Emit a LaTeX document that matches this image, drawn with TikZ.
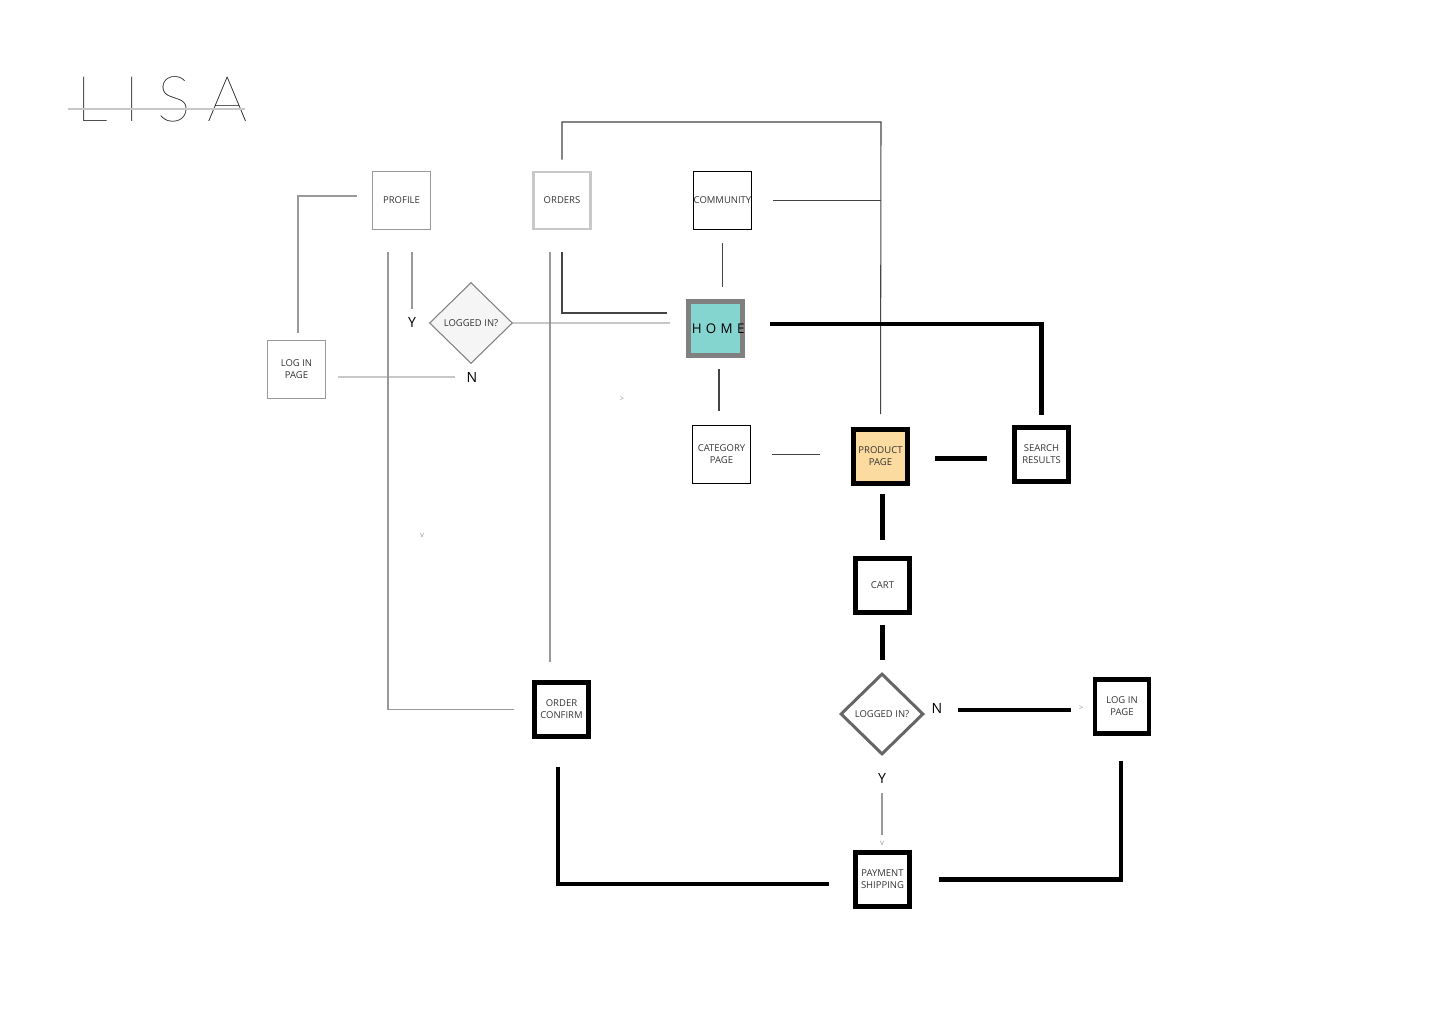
\documentclass[tikz,border=0pt]{standalone}
\usepackage{fontspec}
\usetikzlibrary{shapes.geometric}
\newfontfamily\opensans{Open Sans}
\newfontfamily\titlefont{Lato Thin}[LetterSpace=27]
\newcommand\boxfont{\opensans\fontsize{5.4}{6.8}\selectfont}
\newcommand\ynfont{\opensans\fontsize{8}{9}\selectfont}
\definecolor{hometeal}{HTML}{84D4CF}
\definecolor{prodorange}{HTML}{FCDBA0}
\definecolor{linegrey}{HTML}{444444}
\definecolor{midgrey}{HTML}{999999}
\definecolor{lightgrey}{HTML}{C8C8C8}
\definecolor{textgrey}{HTML}{333333}

\begin{document}
\begin{tikzpicture}[x=0.02cm,y=-0.02cm,
  box/.style={draw,inner sep=0pt,minimum size=1.16cm,align=center,text=textgrey,font=\boxfont,line width=0.6pt},
  boldbox/.style={box,line width=2.8pt,minimum size=1.08cm},
  decision/.style={diamond,draw,aspect=1,inner sep=0pt,minimum width=1.66cm,minimum height=1.62cm,text=textgrey,font=\boxfont},
  yn/.style={inner sep=1pt,font=\ynfont},
  tick/.style={inner sep=0pt,text=midgrey,font=\opensans\fontsize{4.5}{5}\selectfont},
  link/.style={draw=linegrey,line width=0.6pt},
  faint/.style={draw=midgrey,line width=0.6pt},
  pale/.style={draw=lightgrey,line width=1.1pt},
  heavy/.style={draw=black,line width=2.6pt}]
\useasboundingbox (0,0) rectangle (1440,1024);

% title
\node[anchor=base west,inner sep=0pt,text=black,font=\titlefont\fontsize{36}{36}\selectfont] (title) at (76,122) {LISA};
\draw[draw=lightgrey,line width=1.1pt] (68,109) -- (245,109);

% upper nodes
\node[box,draw=midgrey] (profile) at (401.5,200.5) {PROFILE};
\node[box,draw=lightgrey,line width=1.6pt,minimum size=1.14cm] (orders) at (562,200.5) {ORDERS};
\node[box] (community) at (722.5,200.5) {COMMUNITY};
\node[box,draw=gray,fill=hometeal,line width=2.8pt,minimum size=1.08cm,text=black,
  font=\opensans\fontsize{7.6}{9}\selectfont\addfontfeature{LetterSpace=32}] (home) at (715.5,328.5) {\makebox[0pt]{\hspace{3pt}HOME}};
\node[box,draw=midgrey] (login) at (296.5,369.5) {LOG IN\\PAGE};
\node[decision,draw=gray,fill=black!4,line width=0.6pt] (logged) at (471,323) {LOGGED IN?};
\node[box] (category) at (721.5,454.5) {CATEGORY\\PAGE};
\node[boldbox,fill=prodorange] (product) at (880.5,456.5) {PRODUCT\\PAGE};
\node[boldbox] (search) at (1041.5,454.5) {SEARCH\\RESULTS};
\node[boldbox] (cart) at (882.5,585.5) {CART};

% lower nodes
\node[decision,draw=black!60,line width=1.7pt,fill=white] (loggedb) at (882,714) {LOGGED IN?};
\node[boldbox] (loginb) at (1122,706.5) {LOG IN\\PAGE};
\node[boldbox] (confirm) at (561.5,709.5) {ORDER\\CONFIRM};
\node[boldbox] (payment) at (882.5,879.5) {PAYMENT\\SHIPPING};

% labels
\node[yn] (ytop) at (412,322) {Y};
\node[yn] (ntop) at (472,377) {N};
\node[yn] (nbot) at (937,708) {N};
\node[yn] (ybot) at (882,778) {Y};
\node[tick] (t1) at (622,399) {>};
\node[tick] (t2) at (422,535) {v};
\node[tick] (t3) at (1081,708) {>};
\node[tick] (t4) at (882,843) {v};

\coordinate (topbend) at (881,122);
\coordinate (homein) at (686,313);
\coordinate (homeout) at (745,324);
\coordinate (pleft) at (388,230);
\coordinate (oleft) at (550,230);
\coordinate (pbend) at (298,196);
\coordinate (cbend) at (558,884);

% connectors
\draw[link,shorten <=2.2mm,shorten >=2.6mm] (orders.north) |- (topbend) -- (product.north);
\draw[link,shorten <=4.2mm] (community.east) -- (community.east -| topbend);
\draw[link,shorten <=2.6mm,shorten >=2.4mm] (community.south) -- (community.south |- home.north);
\draw[link,shorten <=4.4mm,shorten >=3.8mm] (orders.south) |- (homein);
\draw[pale,shorten >=3.2mm] (logged.east) -- (logged.east -| home.west);
\draw[heavy,shorten <=5mm,shorten >=2mm] (homeout) -| (search.north);
\draw[link,shorten <=2.2mm,shorten >=2.8mm] (home.south) ++(3.5,0) -- ++(0,67);
\draw[link,shorten <=4.2mm,shorten >=6.2mm] (category.east) -- (category.east -| product.west);
\draw[heavy,shorten <=5mm,shorten >=5mm] (product.east) ++(0,2) -- (search.west |- 0,458.5);
\draw[heavy,shorten <=1.6mm,shorten >=3.2mm] (product.south -| cart) -- (cart.north);
\draw[heavy,shorten <=2mm,shorten >=2.4mm] (cart.south) -- (cart.south |- loggedb.north);
\draw[heavy,shorten <=2.8mm,shorten >=4.4mm] (nbot.east |- 0,710) -- (loginb.west |- 0,710);
\draw[heavy,shorten <=5mm,shorten >=5.4mm] (loginb.south) ++(-1,0) |- (payment.east);
\draw[faint,shorten <=7.4mm,shorten >=3mm] (loggedb.south) -- (payment.north -| loggedb);
\draw[heavy,shorten >=4.8mm] (confirm.south -| cbend) ++(0,28) -- (cbend) -- (payment.west |- cbend);
\draw[faint,shorten >=1.4mm] (profile.west) ++(-15,-4.5) -- (pbend) -- (login.north -| pbend);
\draw[pale,shorten <=2.4mm,shorten >=2mm] (login.east |- ntop) -- (ntop.west);
\draw[faint,shorten <=4.4mm,shorten >=1.2mm] (profile.south -| ytop) -- (ytop.north);
\draw[faint,shorten <=4.4mm,shorten >=3.6mm] (pleft) |- (confirm.west);
\draw[faint,shorten <=4.4mm,shorten >=3.6mm] (oleft) -- (oleft |- confirm.north);
\end{tikzpicture}
\end{document}
